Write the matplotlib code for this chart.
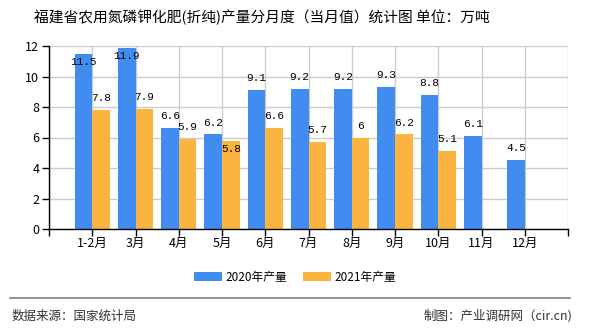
import matplotlib
matplotlib.use("Agg")
import matplotlib.pyplot as plt
import numpy as np

plt.rcParams['font.family'] = ['Noto Sans CJK SC', 'DejaVu Sans']

# data
months = ['1-2月', '3月', '4月', '5月', '6月', '7月', '8月', '9月', '10月', '11月', '12月']
prod_2020 = [11.5, 11.9, 6.6, 6.2, 9.1, 9.2, 9.2, 9.3, 8.8, 6.1, 4.5]
prod_2021 = [7.8, 7.9, 5.9, 5.8, 6.6, 5.7, 6, 6.2, 5.1, None, None]

title = '福建省农用氮磷钾化肥(折纯)产量分月度（当月值）统计图 单位：万吨'
legend_labels = ['2020年产量', '2021年产量']
source_text = '数据来源：国家统计局'
maker_text = '制图：产业调研网（cir.cn)'

blue = '#418CF0'
orange = '#FCB441'
ymax = 12

fig = plt.figure(figsize=(5.9, 3.3), dpi=100)
ax = fig.add_axes([49 / 590, 1 - 229 / 330, (568 - 49) / 590, (229 - 46) / 330])

x = np.arange(len(months))
w = 0.41
b1 = ax.bar(x - w / 2, prod_2020, w, color=blue, label=legend_labels[0], zorder=2)
x2 = [i for i, v in enumerate(prod_2021) if v is not None]
v2 = [prod_2021[i] for i in x2]
b2 = ax.bar(np.array(x2) + w / 2, v2, w, color=orange, label=legend_labels[1], zorder=2)


def put_label(xc, v, inside):
    off = -5.8 if inside else 8.6
    txt = ('%g' % v)
    ax.annotate(txt, (xc, v), xytext=(0, off), textcoords='offset points',
                ha='center', va='center', fontsize=8, family='Liberation Mono',
                color='black', zorder=3, annotation_clip=False)


for i, v in enumerate(prod_2020):
    put_label(i - w / 2, v, v + 0.7 > ymax)
for i, v in zip(x2, v2):
    # avoid overlapping the blue label next to it
    put_label(i + w / 2, v, prod_2020[i] - v < 0.5 or v + 0.7 > ymax)

ax.set_xlim(-1, len(months))
ax.set_ylim(0, ymax)
ax.set_xticks(range(-1, len(months) + 1))
ax.set_xticklabels([''] + months + [''], fontsize=9)
ax.set_yticks(range(0, ymax + 1, 2))
ax.tick_params(axis='y', labelsize=9, length=5, width=1, color='black', pad=2)
ax.tick_params(axis='x', length=5, width=1, color='black', pad=1)
ax.grid(True, color='#cccccc', linewidth=1, zorder=0)
ax.set_axisbelow(True)
for s in ['top', 'right']:
    ax.spines[s].set_visible(False)
for s in ['left', 'bottom']:
    ax.spines[s].set_color('black')
    ax.spines[s].set_linewidth(1)
    ax.spines[s].set_zorder(4)

fig.text(261.5 / 590, 1 - 17 / 330, title, ha='center', va='center', fontsize=10.6)

fig.legend(handles=[b1, b2], loc='center', bbox_to_anchor=(0.5, 1 - 277.5 / 330),
           ncol=2, frameon=False, fontsize=8.5, handlelength=2.4, handleheight=0.8,
           handletextpad=0.3, columnspacing=1.3)

fig.add_artist(plt.Line2D([10 / 590, 570 / 590], [1 - 298 / 330, 1 - 298 / 330],
                          color='#808080', linewidth=1.2))
fig.text(12 / 590, 1 - 316 / 330, source_text, ha='left', va='center', fontsize=9, color='#333333')
fig.text(572 / 590, 1 - 316 / 330, maker_text, ha='right', va='center', fontsize=9, color='#333333')

fig.savefig('out.png', dpi=100)
